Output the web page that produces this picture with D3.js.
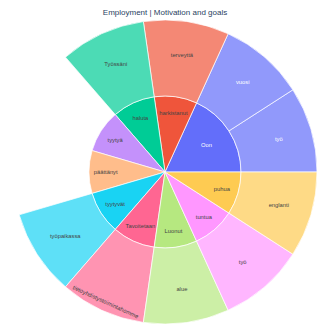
<!DOCTYPE html>
<html>
<head>
<meta charset="utf-8">
<script src="https://cdn.jsdelivr.net/npm/d3@7"></script>
<style>
  html, body { margin: 0; padding: 0; background: #fff; }
  svg { display: block; }
</style>
</head>
<body>
<svg id="chart" width="330" height="330"></svg>
<script>
// ---- data (counterclockwise from 3 o'clock, as in the source) ----
const title = "Employment | Motivation and goals";
const ids     = ["Oon", "harkistanut", "haluta", "tyytyä", "päättänyt", "tyytyvät", "Tavoitetaan", "Luonut", "tuntua", "puhua",
                 "Oon/työ", "Oon/vuosi", "harkistanut/terveyttä", "haluta/Työssäni", "tyytyvät/työpaikassa",
                 "Tavoitetaan/tietoyhdistystoimintahomme", "Luonut/alue", "tuntua/työ", "puhua/englanti"];
const labels  = ["Oon", "harkistanut", "haluta", "tyytyä", "päättänyt", "tyytyvät", "Tavoitetaan", "Luonut", "tuntua", "puhua",
                 "työ", "vuosi", "terveyttä", "Työssäni", "työpaikassa",
                 "tietoyhdistystoimintahomme", "alue", "työ", "englanti"];
const parents = ["", "", "", "", "", "", "", "", "", "",
                 "Oon", "Oon", "harkistanut", "haluta", "tyytyvät",
                 "Tavoitetaan", "Luonut", "tuntua", "puhua"];
const values  = [0, 0, 0, 1, 1, 0, 0, 0, 0, 0,
                 1, 1, 1, 1, 1, 1, 1, 1, 1];
const colorway = ["#636efa", "#EF553B", "#00cc96", "#ab63fa", "#FFA15A", "#19d3f3", "#FF6692", "#B6E880", "#FF97FF", "#FECB52"];

// ---- layout ----
const W = 330, H = 330;
const cx = 165, cy = 172, R = 152;
const leafOpacity = 0.7;
const fontFamily = "'Liberation Sans', Arial, sans-serif";
const labelSize = 5.8;

const svg = d3.select("#chart");
svg.append("rect").attr("width", W).attr("height", H).attr("fill", "#fff");

svg.append("text")
  .attr("x", W / 2).attr("y", 12.5)
  .attr("text-anchor", "middle").attr("dominant-baseline", "central")
  .attr("font-family", fontFamily).attr("font-size", 8)
  .attr("fill", "#2a3f5f")
  .text(title);

const rows = ids.map((id, i) => ({ id, label: labels[i], parent: parents[i], value: values[i] }));
rows.push({ id: "__root", label: "", parent: null, value: 0 });
const table = rows.map(r => ({ ...r, parent: r.parent === "" ? "__root" : r.parent }));

const root = d3.stratify().id(d => d.id).parentId(d => d.parent)(table)
  .sum(d => d.value);

d3.partition().size([2 * Math.PI, root.height + 1])(root);

const rScale = d3.scaleLinear().domain([1, root.height + 1]).range([0, R]);

// base colour per top-level branch
const topIds = root.children.map(d => d.id);
const colorOf = d => {
  let n = d; while (n.depth > 1) n = n.parent;
  return colorway[topIds.indexOf(n.id) % colorway.length];
};
// screen angle (clockwise from 12 o'clock) from partition angle (ccw from 3 o'clock)
const toScreen = a => Math.PI / 2 - a;

const arc = d3.arc()
  .startAngle(d => toScreen(d.x1))
  .endAngle(d => toScreen(d.x0))
  .innerRadius(d => rScale(d.y0))
  .outerRadius(d => rScale(d.y1));

const g = svg.append("g").attr("transform", `translate(${cx},${cy})`);
const nodes = root.descendants().filter(d => d.depth > 0);

g.selectAll("path").data(nodes).join("path")
  .attr("d", arc)
  .attr("fill", d => colorOf(d))
  .attr("fill-opacity", d => d.children ? 1 : leafOpacity)
  .attr("stroke", "#fff")
  .attr("stroke-width", 0.7);

const isLight = c => {
  const k = d3.rgb(c);
  return (k.r * 299 + k.g * 587 + k.b * 114) / 1000 >= 128;
};

const labelG = g.append("g");
nodes.forEach(d => {
  const r0 = rScale(d.y0), r1 = rScale(d.y1);
  const half = 0.5 * Math.min(d.x1 - d.x0, Math.PI);
  const ring = 1 - r0 / r1;
  const rIns = Math.min(1 / (1 + 1 / Math.sin(half)), ring / 2);
  const mid = toScreen((d.x0 + d.x1) / 2); // clockwise from top
  const t = labelG.append("text")
    .attr("text-anchor", "middle").attr("dominant-baseline", "central")
    .attr("font-family", fontFamily).attr("font-size", labelSize)
    .attr("fill", isLight(colorOf(d)) ? "#444" : "#fff")
    .text(d.data.label);
  const w = t.node().getComputedTextLength();
  const h = labelSize * 1.15;
  const diag = Math.sqrt(w * w + h * h);
  let rc, rot = 0;
  if (diag <= rIns * r1 * 2) {
    rc = (1 - rIns) * r1;
  } else {
    // tangential orientation, pushed toward the outer edge
    const Rp = r1 - 1.5;
    rc = Math.sqrt(Rp * Rp - (w / 2) * (w / 2)) - h / 2;
    let deg = mid * 180 / Math.PI;
    deg = ((deg % 360) + 360) % 360;
    rot = (deg > 90 && deg < 270) ? deg - 180 : deg;
  }
  const x = rc * Math.sin(mid), y = -rc * Math.cos(mid);
  t.attr("transform", `translate(${x},${y}) rotate(${rot})`);
});
</script>
</body>
</html>
